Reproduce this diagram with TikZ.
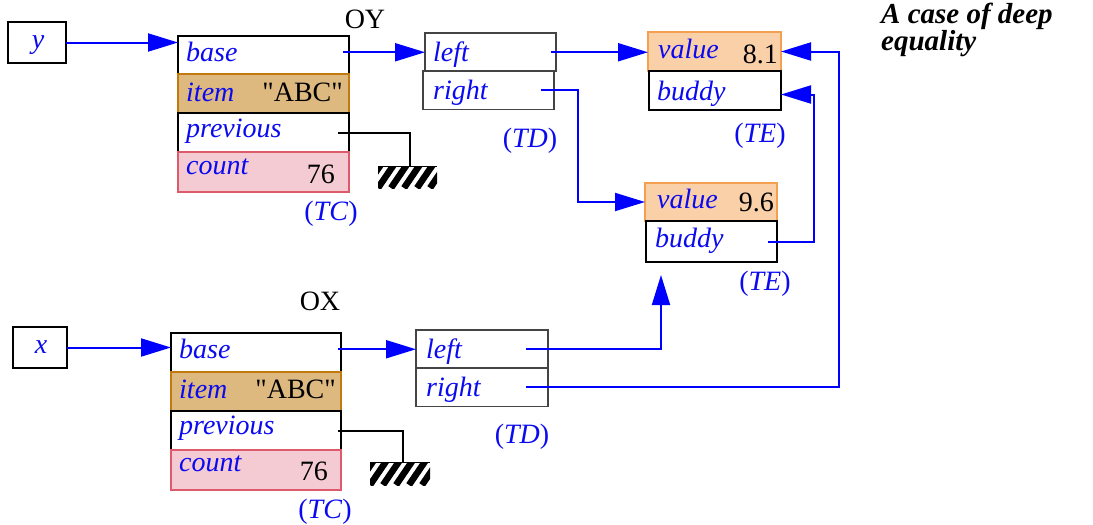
\documentclass[tikz,border=0pt]{standalone}
\usepackage{fontspec}
\setmainfont{Liberation Serif}
\newfontfamily\qfont{Liberation Serif}
\usetikzlibrary{arrows.meta}
\definecolor{itemfill}{HTML}{DDB97F}
\definecolor{itemdraw}{HTML}{C07A10}
\definecolor{countfill}{HTML}{F5CBD3}
\definecolor{countdraw}{HTML}{DC5A6A}
\definecolor{valfill}{HTML}{FAD0A8}
\definecolor{valdraw}{HTML}{F5A050}
\definecolor{txtblue}{HTML}{0A0AF0}
\definecolor{tdgray}{HTML}{444444}
\newcommand{\fsz}{\fontsize{28}{32}\selectfont}
\begin{document}
\begin{tikzpicture}[x=1pt,y=-1pt,
  cell/.style={draw, line width=2pt, anchor=north west, inner sep=0pt, outer sep=0pt},
  tdcell/.style={draw=tdgray, line width=1.2pt, anchor=north west, inner sep=0pt, outer sep=0pt, minimum height=38.5pt},
  itemcell/.style={cell, draw=itemdraw, fill=itemfill},
  countcell/.style={cell, draw=countdraw, fill=countfill},
  valcell/.style={cell, draw=valdraw, fill=valfill},
  fieldlbl/.style={font=\fsz\itshape, text=txtblue, anchor=base west, inner sep=0pt},
  vallbl/.style={font=\fsz\qfont, anchor=base east, inner sep=0pt},
  typelbl/.style={font=\fsz, text=txtblue, anchor=base, inner sep=0pt},
  objlbl/.style={font=\fsz, anchor=base, inner sep=0pt},
  ptr/.style={draw=blue, line width=2pt, -{Triangle[length=30pt,width=18pt]}},
  voidline/.style={draw=black, line width=2pt},
  ground/.style={anchor=north west, inner sep=0pt, outer sep=0pt, minimum width=59pt, minimum height=22pt,
    path picture={\foreach \i in {-2,...,5} \draw[line width=6.5pt] ([xshift=\i*13pt]path picture bounding box.south west) -- ++(17pt,25pt);
      \draw[line width=2pt] (path picture bounding box.north west) -- (path picture bounding box.north east);}}
]
\useasboundingbox (0,0) rectangle (1093,525);

% ---- local variables y and x
\node[cell, minimum width=58pt, minimum height=41pt] (ybox) at (8,22) {};
\node[font=\fsz\itshape, text=txtblue, inner sep=0pt, anchor=base] (ytxt) at (38,48) {y};
\node[cell, minimum width=54pt, minimum height=41pt] (xbox) at (13,327) {};
\node[font=\fsz\itshape, text=txtblue, inner sep=0pt, anchor=base] (xtxt) at (41,353) {x};

% ---- OY object (TC)
\node[objlbl] (oylbl) at (365,28) {OY};
\node[cell, minimum width=171pt, minimum height=38pt] (oyb) at (178,36) {};
\node[itemcell, minimum width=171pt, minimum height=39pt] (oyi) at (178,74) {};
\node[cell, minimum width=171pt, minimum height=39pt] (oyp) at (178,113) {};
\node[countcell, minimum width=171pt, minimum height=40pt] (oyc) at (178,152) {};
\node[fieldlbl] (oybt) at (186,61) {base};
\node[fieldlbl] (oyit) at (186,101) {item};
\node[vallbl] (oyiv) at (343,101) {"ABC"};
\node[fieldlbl] (oypt) at (186,137) {previous};
\node[fieldlbl] (oyct) at (186,174) {count};
\node[vallbl] (oycv) at (335,183) {76};
\node[typelbl] (oytc) at (331,220) {(\textit{TC})};
\node[ground] (gnd1) at (378,166) {};

% ---- OX object (TC)
\node[objlbl] (oxlbl) at (320,310) {OX};
\node[cell, minimum width=170pt, minimum height=39pt] (oxb) at (171,333) {};
\node[itemcell, minimum width=170pt, minimum height=39pt] (oxi) at (171,372) {};
\node[cell, minimum width=170pt, minimum height=39pt] (oxp) at (171,411) {};
\node[countcell, minimum width=170pt, minimum height=40pt] (oxc) at (171,450) {};
\node[fieldlbl] (oxbt) at (179,358) {base};
\node[fieldlbl] (oxit) at (179,398) {item};
\node[vallbl] (oxiv) at (336,398) {"ABC"};
\node[fieldlbl] (oxpt) at (179,434) {previous};
\node[fieldlbl] (oxct) at (179,471) {count};
\node[vallbl] (oxcv) at (328,480) {76};
\node[typelbl] (oxtc) at (325,518) {(\textit{TC})};
\node[ground, minimum width=60pt, minimum height=23pt] (gnd2) at (370,462) {};

% ---- TD objects
\node[tdcell, minimum width=131pt] (tdl1) at (425,33) {};
\node[tdcell, minimum width=131pt] (tdr1) at (423,71) {};
\node[fieldlbl] (tdl1t) at (433,61) {left};
\node[fieldlbl] (tdr1t) at (433,99) {right};
\node[typelbl] (td1lbl) at (530,147) {(\textit{TD})};

\node[tdcell, minimum width=132pt] (tdl2) at (416,330) {};
\node[tdcell, minimum width=132pt] (tdr2) at (416,368) {};
\node[fieldlbl] (tdl2t) at (426,358) {left};
\node[fieldlbl] (tdr2t) at (426,396) {right};
\node[typelbl] (td2lbl) at (522,443) {(\textit{TD})};

% ---- TE objects
\node[valcell, minimum width=133pt, minimum height=39pt] (te1v) at (648,32) {};
\node[cell, minimum width=132pt, minimum height=39pt] (te1b) at (649,71) {};
\node[fieldlbl] (te1vt) at (658,58) {value};
\node[vallbl] (te1vv) at (778,63) {8.1};
\node[fieldlbl] (te1bt) at (657,100) {buddy};
\node[typelbl] (te1lbl) at (760,142) {(\textit{TE})};

\node[valcell, minimum width=132pt, minimum height=38pt] (te2v) at (645,183) {};
\node[cell, minimum width=131pt, minimum height=41pt] (te2b) at (646,221) {};
\node[fieldlbl] (te2vt) at (657,208) {value};
\node[vallbl] (te2vv) at (774,211) {9.6};
\node[fieldlbl] (te2bt) at (655,247) {buddy};
\node[typelbl] (te2lbl) at (765,290) {(\textit{TE})};

% ---- title
\node[font=\fontsize{29}{32}\selectfont\bfseries\itshape, anchor=base west, inner sep=0pt, align=left]
  (title) at (881,50) {A case of deep\\[-5pt]equality};

% ---- void references
\draw[voidline] ([xshift=-11pt]oyp.east) -| ([xshift=2.5pt]gnd1.north);
\draw[voidline] ([xshift=-3pt]oxp.east) -| ([xshift=3pt]gnd2.north);

% ---- pointers
\draw[ptr] (ybox.east) -- (ybox.east -| oyb.west);
\draw[ptr] (xbox.east) -- (xbox.east -| oxb.west);
\draw[ptr] ([xshift=-6pt]oyb.east |- tdl1.west) -- (tdl1.west);
\draw[ptr] ([xshift=-5pt]tdl1.east) -- (tdl1.east -| te1v.west);
\draw[ptr] ([xshift=-13pt]tdr1.east) -- ++(37,0) |- (te2v.west);
\draw[ptr] ([xshift=-9pt]te2b.east) -- ++(46,0) |- ([yshift=-4pt]te1b.east);
\draw[ptr] ([xshift=-3pt]oxb.east |- tdl2.west) -- (tdl2.west);
\draw[ptr] ([xshift=-22pt]tdl2.east) -| ([xshift=15pt,yshift=-13pt]te2b.south west);
\draw[ptr] ([xshift=-22pt]tdr2.east) -| ([xshift=58pt]te1v.east) -- (te1v.east);
\end{tikzpicture}
\end{document}
